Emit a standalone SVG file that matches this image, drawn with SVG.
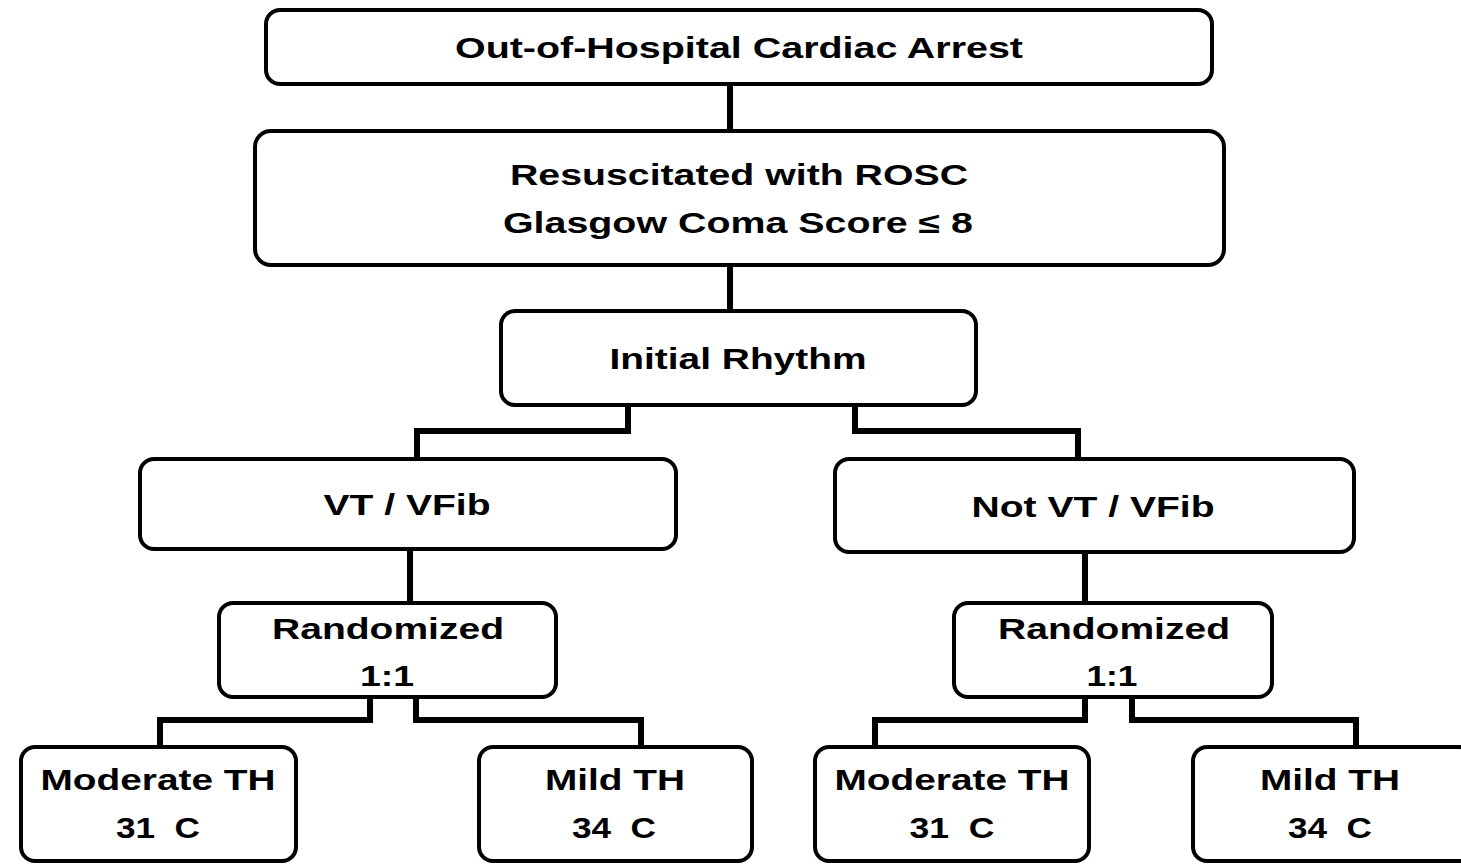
<svg xmlns="http://www.w3.org/2000/svg" width="1461" height="865" viewBox="0 0 1461 865">
<style>
.box{fill:#fff;stroke:#000;stroke-width:4}
.t{font-family:"Liberation Sans",Arial,sans-serif;font-weight:bold;font-size:29px;fill:#000;text-anchor:middle}
.p{white-space:pre}
.c{fill:none;stroke:#000;stroke-width:6;stroke-linejoin:miter}
</style>
<rect width="1461" height="865" fill="#fff"/>
<g id="connectors">
<path class="c" d="M730 84V131"/>
<path class="c" d="M730 265V311"/>
<path class="c" d="M628 405V431H417V459"/>
<path class="c" d="M855 405V431H1078V459"/>
<path class="c" d="M410 549V603"/>
<path class="c" d="M1085 552V603"/>
<path class="c" d="M370 697V720H160V745"/>
<path class="c" d="M416 697V720H641V745"/>
<path class="c" d="M1085 697V720H875V745"/>
<path class="c" d="M1132 697V720H1356V745"/>
</g>
<g id="n1"><rect class="box" x="266" y="10" width="946" height="74" rx="14"/>
<text class="t" x="739" y="58" textLength="568" lengthAdjust="spacingAndGlyphs">Out-of-Hospital Cardiac Arrest</text></g>
<g id="n2"><rect class="box" x="255" y="131" width="969" height="134" rx="16"/>
<text class="t" x="739" y="185" textLength="458" lengthAdjust="spacingAndGlyphs">Resuscitated with ROSC</text>
<text class="t" x="738" y="233" textLength="470" lengthAdjust="spacingAndGlyphs">Glasgow Coma Score ≤ 8</text></g>
<g id="n3"><rect class="box" x="501" y="311" width="475" height="94" rx="14"/>
<text class="t" x="738" y="369" textLength="257" lengthAdjust="spacingAndGlyphs">Initial Rhythm</text></g>
<g id="n4"><rect class="box" x="140" y="459" width="536" height="90" rx="14"/>
<text class="t" x="407" y="515" textLength="167" lengthAdjust="spacingAndGlyphs">VT / VFib</text></g>
<g id="n5"><rect class="box" x="835" y="459" width="519" height="93" rx="14"/>
<text class="t" x="1093" y="517" textLength="243" lengthAdjust="spacingAndGlyphs">Not VT / VFib</text></g>
<g id="n6"><rect class="box" x="219" y="603" width="337" height="94" rx="14"/>
<text class="t" x="388" y="639" textLength="232" lengthAdjust="spacingAndGlyphs">Randomized</text>
<text class="t" x="387" y="686" textLength="54" lengthAdjust="spacingAndGlyphs">1:1</text></g>
<g id="n7"><rect class="box" x="954" y="603" width="318" height="94" rx="14"/>
<text class="t" x="1114" y="639" textLength="232" lengthAdjust="spacingAndGlyphs">Randomized</text>
<text class="t" x="1112" y="686" textLength="51" lengthAdjust="spacingAndGlyphs">1:1</text></g>
<g id="n8"><rect class="box" x="21" y="747" width="275" height="114" rx="14"/>
<text class="t" x="158" y="790" textLength="235" lengthAdjust="spacingAndGlyphs">Moderate TH</text>
<text class="t p" xml:space="preserve" x="158" y="838" textLength="84" lengthAdjust="spacingAndGlyphs">31  C</text></g>
<g id="n9"><rect class="box" x="479" y="747" width="273" height="114" rx="14"/>
<text class="t" x="615" y="790" textLength="140" lengthAdjust="spacingAndGlyphs">Mild TH</text>
<text class="t p" xml:space="preserve" x="614" y="838" textLength="84" lengthAdjust="spacingAndGlyphs">34  C</text></g>
<g id="n10"><rect class="box" x="815" y="747" width="274" height="114" rx="14"/>
<text class="t" x="952" y="790" textLength="235" lengthAdjust="spacingAndGlyphs">Moderate TH</text>
<text class="t p" xml:space="preserve" x="952" y="838" textLength="85" lengthAdjust="spacingAndGlyphs">31  C</text></g>
<g id="n11"><rect class="box" x="1193" y="747" width="280" height="114" rx="14"/>
<text class="t" x="1330" y="790" textLength="140" lengthAdjust="spacingAndGlyphs">Mild TH</text>
<text class="t p" xml:space="preserve" x="1330" y="838" textLength="84" lengthAdjust="spacingAndGlyphs">34  C</text></g>
</svg>
